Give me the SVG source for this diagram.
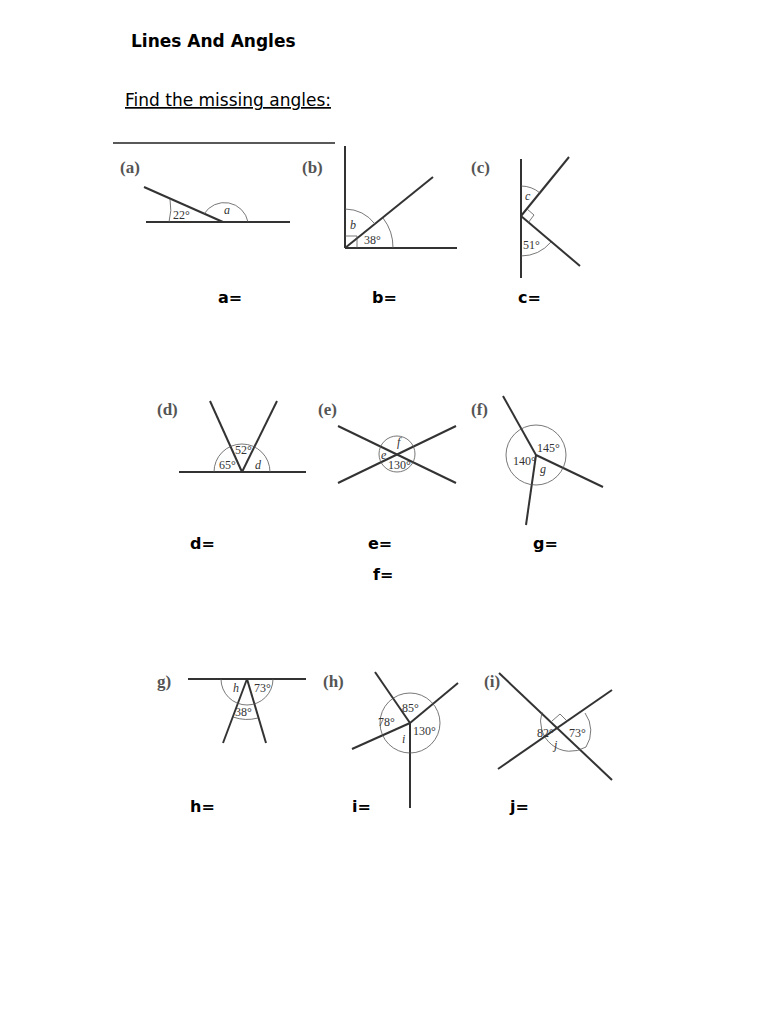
<svg xmlns="http://www.w3.org/2000/svg" width="768" height="1024" viewBox="0 0 768 1024">
<style>
.l{stroke:#333;stroke-width:2;fill:none}
.a{stroke:#555;stroke-width:0.8;fill:none}
.t{font-family:"Liberation Serif",serif;font-size:12px;fill:#333}
.i{font-style:italic}
.h{font-family:"Liberation Serif",serif;font-size:17px;font-weight:bold;fill:#555}
.ans{font-family:"DejaVu Sans",sans-serif;font-size:16px;font-weight:bold;fill:#000}
.ttl{font-family:"DejaVu Sans",sans-serif;font-size:17px;fill:#000}
</style>
<rect width="768" height="1024" fill="#fff"/>
<text x="131" y="47" class="ttl" font-weight="bold">Lines And Angles</text>
<text x="125" y="106" class="ttl" text-decoration="underline">Find the missing angles:</text>
<line x1="113" y1="143" x2="335" y2="143" stroke="#222" stroke-width="1.5"/>
<g id="fig-a">
<text x="120" y="173" class="h">(a)</text>
<line class="l" x1="146" y1="222" x2="290" y2="222"/><line class="l" x1="144" y1="187" x2="223" y2="222"/>
<path class="a" d="M170 199 A52 52 0 0 1 169 222"/>
<path class="a" d="M204 214 A24 24 0 0 1 248 222"/>
<text x="173" y="219" class="t">22°</text><text x="224" y="214" class="t i">a</text>
</g>
<g id="fig-b">
<text x="302" y="173" class="h">(b)</text>
<line class="l" x1="345" y1="146" x2="345" y2="248"/><line class="l" x1="345" y1="248" x2="457" y2="248"/><line class="l" x1="345" y1="248" x2="433" y2="177"/>
<path class="a" d="M345 209 A39 39 0 0 1 375 224"/><path class="a" d="M383 218 A48 48 0 0 1 393 248"/>
<path class="a" d="M345 236 H357 V248"/>
<text x="350" y="229" class="t i">b</text><text x="364" y="244" class="t">38°</text>
</g>
<g id="fig-c">
<text x="471" y="173" class="h">(c)</text>
<line class="l" x1="521" y1="159" x2="521" y2="278"/><line class="l" x1="521" y1="216" x2="569" y2="157"/><line class="l" x1="521" y1="216" x2="580" y2="266"/>
<path class="a" d="M521 186 A30 30 0 0 1 540 193"/><path class="a" d="M521 256 A40 40 0 0 0 551 242"/>
<path class="a" d="M527 209 L534 215 L528 223"/>
<text x="525" y="200" class="t i">c</text><text x="523" y="249" class="t">51°</text>
</g>
<text x="218" y="303" class="ans">a=</text><text x="372" y="303" class="ans">b=</text><text x="518" y="303" class="ans">c=</text>
<g id="fig-d">
<text x="157" y="415" class="h">(d)</text>
<line class="l" x1="179" y1="472" x2="306" y2="472"/><line class="l" x1="242" y1="472" x2="210" y2="401"/><line class="l" x1="242" y1="472" x2="277" y2="401"/>
<path class="a" d="M214 472 A28 28 0 0 1 270 472"/>
<text x="235" y="454" class="t">52°</text><text x="219" y="469" class="t">65°</text><text x="255" y="469" class="t i">d</text>
</g>
<g id="fig-e">
<text x="318" y="415" class="h">(e)</text>
<line class="l" x1="338" y1="426" x2="456" y2="483"/><line class="l" x1="338" y1="483" x2="456" y2="426"/>
<circle class="a" cx="397" cy="454" r="18"/>
<text x="397" y="446" class="t i">f</text><text x="381" y="459" class="t i">e</text><text x="388" y="469" class="t">130°</text>
</g>
<g id="fig-f">
<text x="471" y="415" class="h">(f)</text>
<line class="l" x1="536" y1="455" x2="503" y2="396"/><line class="l" x1="536" y1="455" x2="603" y2="487"/><line class="l" x1="536" y1="455" x2="526" y2="525"/>
<circle class="a" cx="536" cy="455" r="30"/>
<text x="537" y="452" class="t">145°</text><text x="513" y="465" class="t">140°</text><text x="540" y="473" class="t i">g</text>
</g>
<text x="190" y="549" class="ans">d=</text><text x="368" y="549" class="ans">e=</text><text x="373" y="580" class="ans">f=</text><text x="533" y="549" class="ans">g=</text>
<g id="fig-g">
<text x="157" y="687" class="h">g)</text>
<line class="l" x1="188" y1="679" x2="306" y2="679"/><line class="l" x1="247" y1="679" x2="223" y2="743"/><line class="l" x1="247" y1="679" x2="266" y2="743"/>
<path class="a" d="M221 679 A26 26 0 0 0 273 679"/>
<path class="a" d="M233 717 A42 42 0 0 0 258 718"/>
<text x="233" y="692" class="t i">h</text><text x="254" y="692" class="t">73°</text><text x="235" y="716" class="t">38°</text>
</g>
<g id="fig-h">
<text x="323" y="687" class="h">(h)</text>
<line class="l" x1="410" y1="723" x2="375" y2="672"/><line class="l" x1="410" y1="723" x2="458" y2="683"/><line class="l" x1="410" y1="723" x2="352" y2="749"/><line class="l" x1="410" y1="723" x2="410" y2="808"/>
<circle class="a" cx="410" cy="723" r="30"/>
<text x="402" y="712" class="t">85°</text><text x="378" y="726" class="t">78°</text><text x="402" y="743" class="t i">i</text><text x="413" y="735" class="t">130°</text>
</g>
<g id="fig-i">
<text x="484" y="687" class="h">(i)</text>
<line class="l" x1="499" y1="673" x2="612" y2="780"/><line class="l" x1="498" y1="769" x2="612" y2="690"/>
<path class="a" d="M542 712 A30 30 0 0 0 586 747"/>
<path class="a" d="M585 713 A30 30 0 0 1 586 747"/>
<path class="a" d="M552 721 L560 714 L568 722"/>
<text x="537" y="737" class="t">82°</text><text x="569" y="737" class="t">73°</text><text x="554" y="749" class="t i">j</text>
</g>
<text x="190" y="812" class="ans">h=</text><text x="352" y="812" class="ans">i=</text><text x="510" y="812" class="ans">j=</text>
</svg>
